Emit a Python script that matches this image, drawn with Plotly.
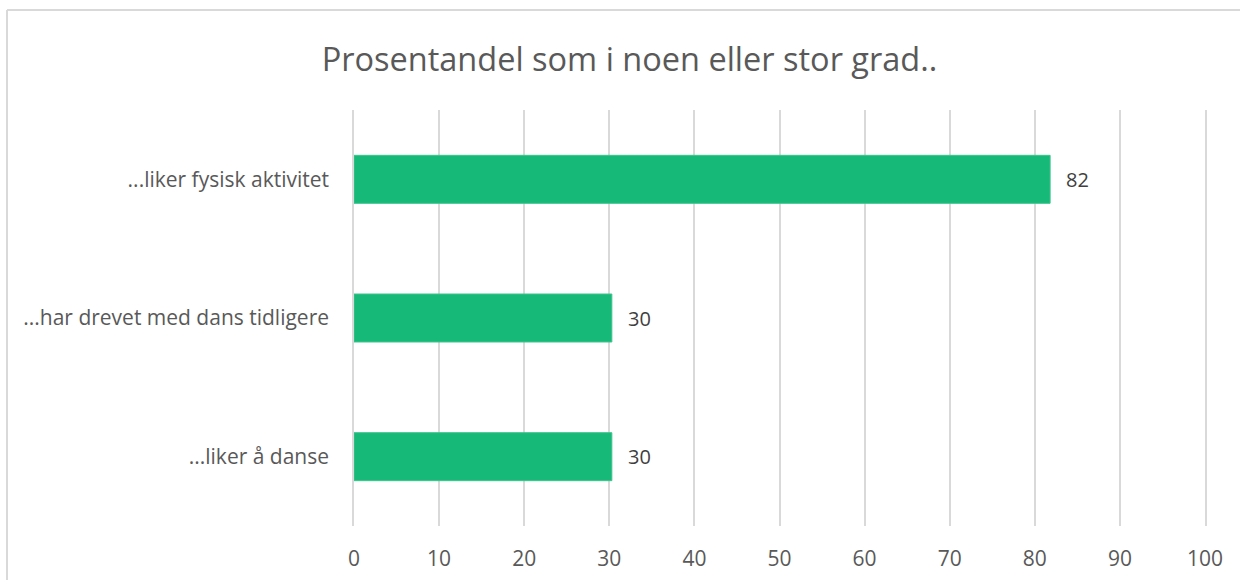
import plotly.graph_objects as go

categories = ["...liker fysisk aktivitet", "...har drevet med dans tidligere", "...liker å danse"]
values = [81.8, 30.3, 30.3]
labels = ["82", "30", "30"]
tick_vals = [0, 10, 20, 30, 40, 50, 60, 70, 80, 90, 100]

FONT = "Open Sans"
W, H = 1240, 580
L, R, T, B = 354, 35, 110, 54
pw, ph = W - L - R, H - T - B
GRID = "#D9D9D9"

fig = go.Figure()
fig.add_trace(go.Bar(
    x=values, y=categories, orientation="h",
    marker=dict(color="#17B978", line=dict(color="#3EC48E", width=1)),
    width=0.346, hoverinfo="skip",
))

for v, lab, cat in zip(values, labels, categories):
    fig.add_annotation(x=v, y=cat, text=lab, showarrow=False, xanchor="left",
                       xshift=14, font=dict(family=FONT, size=20, color="#404040"))

fig.update_layout(
    width=W, height=H,
    margin=dict(l=L, r=R, t=T, b=B, autoexpand=False),
    paper_bgcolor="white", plot_bgcolor="white",
    showlegend=False,
    title=dict(text="Prosentandel som i noen eller stor grad..", x=629.5 / W, xanchor="center",
               y=1 - 60 / H, yanchor="middle", font=dict(family=FONT, size=32.5, color="#595959")),
    xaxis=dict(range=[0, 100], tickvals=tick_vals, showgrid=True, gridcolor=GRID, gridwidth=1.5,
               zeroline=False, showline=False, ticks="", ticklabelstandoff=18, automargin=False,
               tickfont=dict(family=FONT, size=21, color="#595959"), fixedrange=True),
    yaxis=dict(range=[2.5, -0.5], showgrid=False, zeroline=False, showline=True, mirror=True,
               linecolor=GRID, linewidth=1.5, ticks="", automargin=False,
               ticklabelstandoff=19, tickfont=dict(family=FONT, size=21, color="#595959")),
    shapes=[
        dict(type="line", xref="paper", yref="paper", x0=(7 - L) / pw, x1=2, y0=(H - B - 10) / ph, y1=(H - B - 10) / ph,
             line=dict(color=GRID, width=2)),
        dict(type="line", xref="paper", yref="paper", x0=(7 - L) / pw, x1=(7 - L) / pw, y0=(H - B - 10) / ph, y1=-1,
             line=dict(color=GRID, width=2)),
    ],
)

fig.write_html("out.html", config={"displayModeBar": False},
               post_script="document.body.style.margin='0';document.body.style.padding='0';")
